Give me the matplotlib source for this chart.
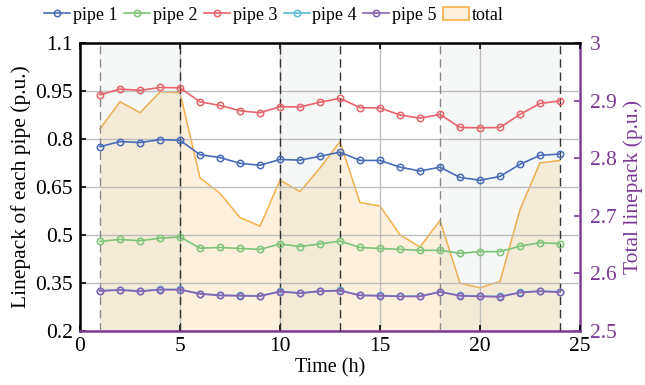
import matplotlib.pyplot as plt
from matplotlib.patches import Patch
import numpy as np

plt.rcParams['font.family'] = ['Liberation Serif', 'DejaVu Serif']

# hourly linepack values
hours = np.arange(1, 25)
pipe1 = [0.776, 0.792, 0.789, 0.798, 0.796, 0.751, 0.742, 0.724, 0.718, 0.736, 0.734, 0.746,
         0.759, 0.733, 0.733, 0.712, 0.700, 0.712, 0.680, 0.671, 0.683, 0.721, 0.749, 0.753]
pipe2 = [0.480, 0.486, 0.482, 0.490, 0.494, 0.459, 0.461, 0.458, 0.455, 0.472, 0.464, 0.472,
         0.481, 0.461, 0.458, 0.455, 0.452, 0.452, 0.443, 0.448, 0.448, 0.465, 0.476, 0.473]
pipe3 = [0.938, 0.956, 0.952, 0.961, 0.960, 0.916, 0.905, 0.888, 0.882, 0.901, 0.900, 0.915,
         0.927, 0.898, 0.897, 0.875, 0.865, 0.877, 0.836, 0.835, 0.836, 0.877, 0.911, 0.919]
pipe4 = [0.326, 0.329, 0.325, 0.330, 0.330, 0.317, 0.312, 0.311, 0.310, 0.324, 0.319, 0.325,
         0.327, 0.312, 0.311, 0.309, 0.309, 0.323, 0.311, 0.309, 0.308, 0.321, 0.325, 0.323]
pipe5 = [0.325, 0.328, 0.324, 0.329, 0.329, 0.316, 0.311, 0.310, 0.309, 0.323, 0.318, 0.324,
         0.326, 0.311, 0.310, 0.308, 0.308, 0.322, 0.310, 0.308, 0.307, 0.320, 0.324, 0.321]
total = [2.851, 2.898, 2.879, 2.915, 2.914, 2.766, 2.739, 2.697, 2.682, 2.762, 2.742, 2.783,
         2.829, 2.723, 2.717, 2.667, 2.646, 2.692, 2.583, 2.575, 2.586, 2.711, 2.792, 2.796]

# periods highlighted in the figure
shade_periods = [(1, 5), (10, 13), (18, 24)]
dash_lines = [1, 5, 10, 13, 18, 24]
dash_colors = ['#8a8a8a', '#333333', '#333333', '#333333', '#8a8a8a', '#333333']

purple = '#7b3a96'
colors = ['#4a6cb8', '#7cc477', '#e8646b', '#5cbad2', '#8a62b2']
names = ['pipe 1', 'pipe 2', 'pipe 3', 'pipe 4', 'pipe 5']

fig = plt.figure(figsize=(6.45, 3.85), dpi=100)
ax1 = fig.add_axes([80/645, 1 - 331/385, 500/645, 288/385])
ax2 = ax1.twinx()
ax1.set_zorder(ax2.get_zorder() + 1)
ax1.patch.set_visible(False)

# total linepack on the right axis
ax2.fill_between(hours, total, 2.5, facecolor='#fdf0dc', edgecolor='none', zorder=1)
ax2.plot(hours, total, color='#f5b04a', lw=1.1, zorder=2)
for a, b in shade_periods:
    ax2.axvspan(a, b, color='#91afaf', alpha=0.08, lw=0, zorder=3)
ax2.set_ylim(2.5, 3.0)
ax2.set_yticks([2.5, 2.6, 2.7, 2.8, 2.9, 3.0])
ax2.set_yticklabels(['2.5', '2.6', '2.7', '2.8', '2.9', '3'])
ax2.tick_params(axis='y', direction='in', colors=purple, labelsize=15.5, length=4,
                width=1.2, pad=7)
ax2.set_ylabel('Total linepack (p.u.)', color=purple, fontsize=15.5, labelpad=5)
for s in ax2.spines.values():
    s.set_visible(False)
ax2.spines['right'].set_visible(True)
ax2.spines['right'].set_color(purple)
ax2.spines['right'].set_linewidth(1.8)

# pipes on the left axis
handles = []
for vals, c, n in zip([pipe1, pipe2, pipe3, pipe4, pipe5], colors, names):
    h, = ax1.plot(hours, vals, color=c, lw=1.2, marker='o', ms=4.6, mfc='none',
                  mec=c, mew=1.1, label=n, zorder=5)
    handles.append(h)

for x, c in zip(dash_lines, dash_colors):
    ax1.axvline(x, color=c, lw=1.0, ls=(0, (6, 3.5)), zorder=4)

ax1.set_xlim(0, 25)
ax1.set_ylim(0.2, 1.1)
ax1.set_xticks([0, 5, 10, 15, 20, 25])
ax1.set_yticks([0.2, 0.35, 0.5, 0.65, 0.8, 0.95, 1.1])
ax1.set_yticklabels(['0.2', '0.35', '0.5', '0.65', '0.8', '0.95', '1.1'])
ax1.grid(True, color='#bdbdbd', lw=1.0, zorder=0)
ax1.set_axisbelow(True)
ax1.tick_params(axis='both', direction='in', labelsize=15.5, length=4, width=1.2,
                top=True, right=False)
ax1.tick_params(axis='x', pad=4)
ax1.tick_params(axis='y', pad=5)
ax1.set_xlabel('Time (h)', fontsize=14.5, labelpad=2)
ax1.set_ylabel('Linepack of each pipe (p.u.)', fontsize=15.5, labelpad=3)
ax1.spines['left'].set_linewidth(1.8)
ax1.spines['top'].set_linewidth(1.8)
ax1.spines['bottom'].set_linewidth(1.8)
ax1.spines['bottom'].set_color(purple)
ax1.spines['right'].set_visible(False)

total_patch = Patch(facecolor='#fdf0dc', edgecolor='#f5b04a', lw=1.2, label='total')
fig.legend(handles + [total_patch], names + ['total'], loc='upper left',
           bbox_to_anchor=(28/645, 1.025), ncol=6, frameon=False, fontsize=13,
           handlelength=1.45, handletextpad=0.15, columnspacing=0.35)

fig.savefig('out.png', dpi=100)
